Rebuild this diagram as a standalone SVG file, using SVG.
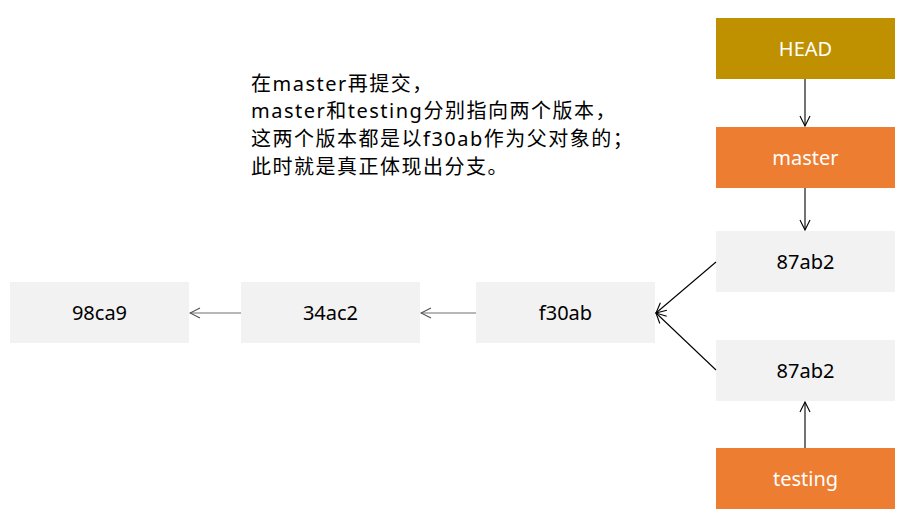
<svg xmlns="http://www.w3.org/2000/svg" width="911" height="520" viewBox="0 0 911 520">
<style>
.box{fill:#F2F2F2}
.lbl{font-family:"Noto Sans","Noto Sans CJK SC",sans-serif;font-size:20px;text-anchor:middle;dominant-baseline:central;fill:#000}
.wl{fill:#fff}
.note{font-family:"Noto Sans","Noto Sans CJK SC",sans-serif;font-size:20px;letter-spacing:1.5px;fill:#000}
.c{fill:none;stroke:#000;stroke-width:1.1;marker-end:url(#ah)}
.g{stroke:#707070;marker-end:url(#ahg)}
</style>
<defs>
<marker id="ah" viewBox="0 0 12 12" refX="11" refY="6" markerWidth="12" markerHeight="12" markerUnits="userSpaceOnUse" orient="auto"><path d="M1,1 L11,6 L1,11" fill="none" stroke="#000" stroke-width="1.1"/></marker>
<marker id="ahg" viewBox="0 0 12 12" refX="11" refY="6" markerWidth="12" markerHeight="12" markerUnits="userSpaceOnUse" orient="auto"><path d="M1,1 L11,6 L1,11" fill="none" stroke="#505050" stroke-width="1.1"/></marker>
</defs>
<g id="note">
<text class="note" x="251" y="90.5">在master再提交，</text>
<text class="note" x="251" y="118.2">master和testing分别指向两个版本，</text>
<text class="note" x="251" y="146">这两个版本都是以f30ab作为父对象的；</text>
<text class="note" x="251" y="173.8">此时就是真正体现出分支。</text>
</g>
<g id="n-head"><rect x="716" y="18" width="179" height="61" fill="#BF9000"/><text class="lbl wl" x="805.5" y="48.5">HEAD</text></g>
<g id="n-master"><rect x="716" y="127" width="179" height="61" fill="#ED7D31"/><text class="lbl wl" x="805.5" y="157.5">master</text></g>
<g id="n-c1"><rect class="box" x="716" y="231" width="179" height="61"/><text class="lbl" x="805.5" y="261.5">87ab2</text></g>
<g id="n-c2"><rect class="box" x="716" y="340" width="179" height="61"/><text class="lbl" x="805.5" y="370.5">87ab2</text></g>
<g id="n-testing"><rect x="716" y="448" width="179" height="61" fill="#ED7D31"/><text class="lbl wl" x="805.5" y="478.5">testing</text></g>
<g id="n-f30ab"><rect class="box" x="476" y="282" width="179" height="61"/><text class="lbl" x="565.5" y="312.5">f30ab</text></g>
<g id="n-34ac2"><rect class="box" x="241" y="282" width="179" height="61"/><text class="lbl" x="330.5" y="312.5">34ac2</text></g>
<g id="n-98ca9"><rect class="box" x="10" y="282" width="179" height="61"/><text class="lbl" x="99.5" y="312.5">98ca9</text></g>
<g id="connectors">
<line class="c" x1="805" y1="79" x2="805" y2="126"/>
<line class="c" x1="805" y1="188" x2="805" y2="230"/>
<line class="c" x1="805" y1="448" x2="805" y2="402"/>
<line class="c" x1="716" y1="262" x2="656" y2="313"/>
<line class="c" x1="716" y1="370" x2="656" y2="313"/>
<line class="c g" x1="476" y1="313" x2="421" y2="313"/>
<line class="c g" x1="241" y1="313" x2="190" y2="313"/>
</g>
</svg>
